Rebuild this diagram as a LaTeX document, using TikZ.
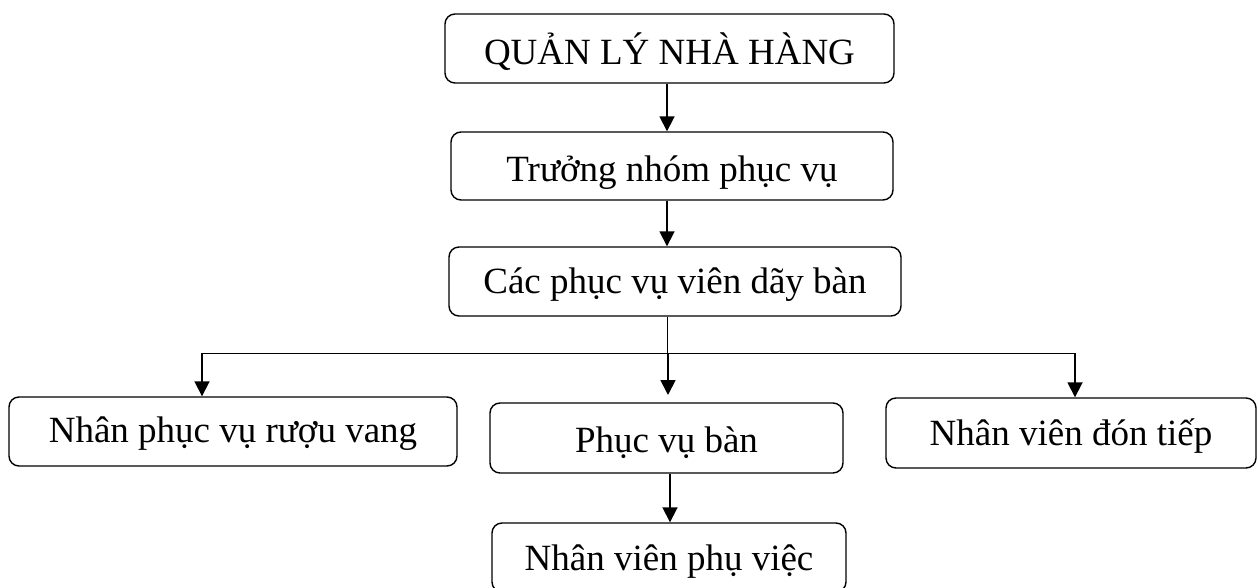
\documentclass[tikz,border=0pt]{standalone}
\usepackage{fontspec}
\setmainfont{Liberation Serif}
\usetikzlibrary{arrows.meta}
\begin{document}
\begin{tikzpicture}[x=1pt,y=-1pt,
  box/.style={draw=black, line width=1.4pt, rounded corners=10pt, inner sep=0pt,
    font=\fontsize{37}{44}\selectfont, text depth=0pt, anchor=center},
  arr/.style={line width=1.8pt, -{Triangle[length=15pt,width=15pt]}},
  thin/.style={line width=1pt}]
\useasboundingbox (0,0) rectangle (1258,588);
\node[box, minimum width=449pt, minimum height=69pt, text height=33pt] (b1) at (669.5,48.5) {QUẢN LÝ NHÀ HÀNG};
\node[box, minimum width=442pt, minimum height=68pt, text height=32pt] (b2) at (672,166) {Trưởng nhóm phục vụ};
\node[box, minimum width=452pt, minimum height=69pt, text height=23pt] (b3) at (675,281.5) {Các phục vụ viên dãy bàn};
\node[box, minimum width=448pt, minimum height=69pt, text height=21pt] (b4) at (233,431.5) {Nhân phục vụ rượu vang};
\node[box, minimum width=353pt, minimum height=70pt, text height=28pt] (b5) at (666.5,438) {Phục vụ bàn};
\node[box, minimum width=370pt, minimum height=70pt, text height=24pt] (b6) at (1071,433) {Nhân viên đón tiếp};
\node[box, minimum width=354pt, minimum height=69pt, text height=25pt] (b7) at (669,557.5) {Nhân viên phụ việc};
\coordinate (xa) at (667,0);
\coordinate (xm) at (668,0);
\coordinate (xb) at (670,0);
\coordinate (hl) at (202,353);
\coordinate (hm) at (668,353);
\coordinate (hr) at (1075,353);
\coordinate (t5) at (668,395);
\draw[arr] (b1.south -| xa) -- (b2.north -| xa);
\draw[arr] (b2.south -| xa) -- (b3.north -| xa);
\draw[thin] (b3.south -| xa) -- (hl -| xa);
\draw[thin] (hl) -- (hr);
\draw[arr] (hl) -- (b4.north -| hl);
\draw[arr] (hm) -- (t5);
\draw[arr] (hr) -- (b6.north -| hr);
\draw[arr] (b5.south -| xb) -- (b7.north -| xb);
\end{tikzpicture}
\end{document}
